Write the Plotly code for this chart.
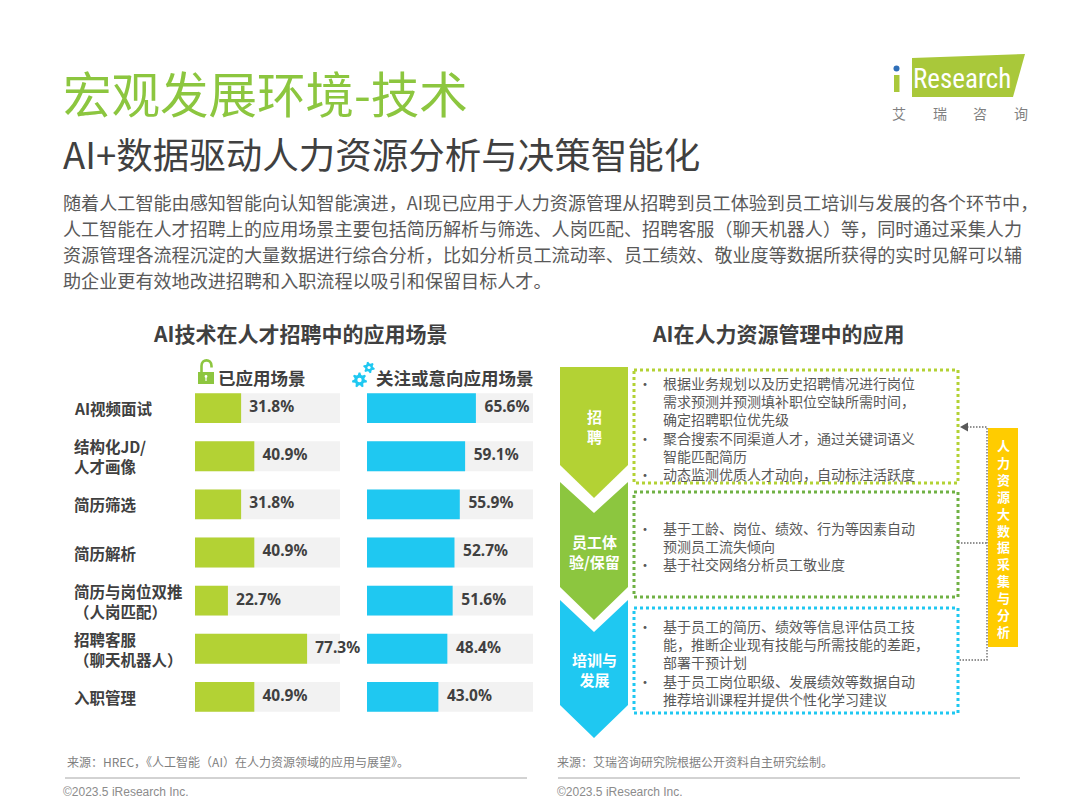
import plotly.graph_objects as go
import numpy as np

W, H = 1080, 810
CJK = "Noto Sans CJK SC"
DARK = "#404040"
GRAY = "#595959"
LIME = "#b3d234"
GREEN = "#8cc63f"
CYAN = "#1fc8f1"

# ---- data ----
scenes = ["AI视频面试", "结构化JD/<br>人才画像", "简历筛选", "简历解析",
          "简历与岗位双推<br>（人岗匹配）", "招聘客服<br>（聊天机器人）", "入职管理"]
applied = [31.8, 40.9, 31.8, 40.9, 22.7, 77.3, 40.9]
interested = [65.6, 59.1, 55.9, 52.7, 51.6, 48.4, 43.0]

para_lines = [
    "随着人工智能由感知智能向认知智能演进，AI现已应用于人力资源管理从招聘到员工体验到员工培训与发展的各个环节中，",
    "人工智能在人才招聘上的应用场景主要包括简历解析与筛选、人岗匹配、招聘客服（聊天机器人）等，同时通过采集人力",
    "资源管理各流程沉淀的大量数据进行综合分析，比如分析员工流动率、员工绩效、敬业度等数据所获得的实时见解可以辅",
    "助企业更有效地改进招聘和入职流程以吸引和保留目标人才。",
]

stages = ["招<br>聘", "员工体<br>验/保留", "培训与<br>发展"]
recruit_pts = [["根据业务规划以及历史招聘情况进行岗位", "需求预测并预测填补职位空缺所需时间，", "确定招聘职位优先级"],
               ["聚合搜索不同渠道人才，通过关键词语义", "智能匹配简历"],
               ["动态监测优质人才动向，自动标注活跃度"]]
retain_pts = [["基于工龄、岗位、绩效、行为等因素自动", "预测员工流失倾向"],
              ["基于社交网络分析员工敬业度"]]
train_pts = [["基于员工的简历、绩效等信息评估员工技", "能，推断企业现有技能与所需技能的差距，", "部署干预计划"],
             ["基于员工岗位职级、发展绩效等数据自动", "推荐培训课程并提供个性化学习建议"]]
side_label = "人力资源大数据采集与分析"


def px(x):
    return x / W


def py(y):
    return 1 - y / H


annos = []
shapes = []


def txt(x, y, s, size, color=GRAY, bold=False, anchor="left", family=CJK, **kw):
    if bold:
        s = "<b>" + s + "</b>"
    annos.append(dict(x=x, y=y, xref="x", yref="y", text=s, showarrow=False,
                      xanchor=anchor, yanchor="middle",
                      font=dict(family=family, size=size, color=color), **kw))


def path(d, fill=None, line_color=None, lw=0, dash=None):
    shapes.append(dict(type="path", path=d, xref="x", yref="y",
                       fillcolor=fill if fill else "rgba(0,0,0,0)",
                       line=dict(color=line_color if line_color else "rgba(0,0,0,0)", width=lw, dash=dash)))


def rect(x0, y0, x1, y1, fill=None, line_color=None, lw=0, dash=None):
    shapes.append(dict(type="rect", x0=x0, y0=y0, x1=x1, y1=y1, xref="x", yref="y",
                       fillcolor=fill if fill else "rgba(0,0,0,0)",
                       line=dict(color=line_color if line_color else "rgba(0,0,0,0)", width=lw, dash=dash)))


def dot(x0, y0, x1, y1, col):
    shapes.append(dict(type="circle", x0=x0, y0=y0, x1=x1, y1=y1, xref="x", yref="y",
                       fillcolor=col, line=dict(width=0)))


def gear(cx, cy, ro, ri, n):
    pts = []
    for i in range(n * 4):
        a = 2 * np.pi * (i + 0.5) / (n * 4)
        r = ro if i % 4 in (0, 1) else ri
        pts.append((cx + r * np.cos(a), cy + r * np.sin(a)))
    return "M" + " L".join(f"{x:.2f},{y:.2f}" for x, y in pts) + " Z"


fig = go.Figure()

# base pixel canvas
fig.add_trace(go.Scatter(x=[0], y=[0], mode="markers", marker=dict(opacity=0),
                         hoverinfo="skip", showlegend=False))

# ---- header ----
txt(61, 92, "宏观发展环境-技术", 48.5, color="#8cc63f")
txt(61, 153, "AI+数据驱动人力资源分析与决策智能化", 36.5, color=DARK)
for i, line in enumerate(para_lines):
    txt(61, 202 + i * 26, line, 18.1, color=GRAY)

# logo
path("M912,58 L1025,54 L1013,97 L912,97 Z", fill="#a9c83a")
rect(894, 75, 899.5, 92, fill="#a9c83a")
dot(893.5, 65.5, 899.5, 71.5, "#2f6fb8")
txt(962, 79, "Research", 27, color="white", anchor="center",
    family="Liberation Sans Narrow, Roboto Condensed, Roboto")
for i, ch in enumerate("艾瑞咨询"):
    txt(899 + i * 40.5, 113, ch, 14, color="#7f7f7f", anchor="center")

# ---- left chart ----
txt(300, 333, "AI技术在人才招聘中的应用场景", 21, color=DARK, bold=True, anchor="center")
txt(216, 377, "已应用场景", 17.5, color=DARK, bold=True)
txt(374, 377, "关注或意向应用场景", 17.5, color=DARK, bold=True)

# lock icon
rect(198, 372, 214, 384, fill="#8dc63f")
path("M201.5,372 L201.5,366 C201.5,358.5 211.5,358.5 211.5,366 L211.5,367.5",
     line_color="#8dc63f", lw=2.6)
dot(204.6, 375, 207.4, 377.8, "white")
rect(205.4, 377, 206.6, 381, fill="white")
# gear icon
path(gear(359.5, 380, 7.6, 5.2, 7), fill=CYAN)
path(gear(369, 367.5, 5.8, 4.0, 6), fill=CYAN)
dot(357.3, 377.8, 361.7, 382.2, "white")
dot(367.4, 365.9, 370.6, 369.1, "white")

ydom = [py(721), py(384)]
full = [100] * len(scenes)
for ax, vals, col, pad in (("2", applied, LIME, 5.6), ("3", interested, CYAN, 5.2)):
    fig.add_trace(go.Bar(x=full, y=scenes, orientation="h", width=0.62,
                         marker=dict(color="#f2f2f2", line=dict(width=0)),
                         xaxis="x" + ax, yaxis="y" + ax, hoverinfo="skip", showlegend=False))
    fig.add_trace(go.Bar(x=vals, y=scenes, orientation="h", width=0.62,
                         marker=dict(color=col, line=dict(width=0)),
                         xaxis="x" + ax, yaxis="y" + ax, showlegend=False))
    fig.add_trace(go.Scatter(x=[v + pad for v in vals], y=scenes, mode="text",
                             text=[f"<b>{v:.1f}%</b>" for v in vals], textposition="middle right",
                             textfont=dict(family="Noto Sans, " + CJK, size=15.5, color=DARK),
                             xaxis="x" + ax, yaxis="y" + ax, cliponaxis=False,
                             hoverinfo="skip", showlegend=False))

for s in scenes:
    annos.append(dict(x=px(73), y=s, xref="paper", yref="y2", text="<b>" + s + "</b>",
                      showarrow=False, xanchor="left", yanchor="middle", align="left", borderpad=0,
                      font=dict(family=CJK, size=15.5, color=DARK)))

# ---- right diagram ----
txt(778, 333, "AI在人力资源管理中的应用", 21, color=DARK, bold=True, anchor="center")

path("M560,367 L628,367 L628,465 L594,498 L560,465 Z", fill=LIME)
path("M560,482 L594,513 L628,482 L628,587 L594,620 L560,587 Z", fill=GREEN)
path("M560,600 L594,632 L628,600 L628,705 L594,738 L560,705 Z", fill=CYAN)
for s, y in zip(stages, [426, 551, 669]):
    annos.append(dict(x=594, y=y, xref="x", yref="y", text="<b>" + s + "</b>", showarrow=False,
                      xanchor="center", yanchor="middle", align="center",
                      font=dict(family=CJK, size=15, color="white")))

boxes = [(370, 483, LIME, recruit_pts, 428),
         (492, 597, "#70b144", retain_pts, 545.5),
         (608, 713, CYAN, train_pts, 662)]
for top, bot, col, pts, yc in boxes:
    rect(634, top, 958, bot, line_color=col, lw=3, dash="3px,3px")
    lines, marks = [], []
    for item in pts:
        for j, line in enumerate(item):
            lines.append(line)
            marks.append("•" if j == 0 else " ")
    for x, s, anc in ((645, "<br>".join(marks), "center"), (662, "<br>".join(lines), "left")):
        annos.append(dict(x=x, y=yc, xref="x", yref="y", text=s, showarrow=False,
                          xanchor=anc, yanchor="middle", align="left", borderpad=0,
                          font=dict(family=CJK, size=14, color=GRAY)))

# side bar and connectors
rect(988, 428, 1018, 647, fill="#ffcc00")
annos.append(dict(x=1003, y=538, xref="x", yref="y", text="<b>" + "<br>".join(side_label) + "</b>",
                  showarrow=False, xanchor="center", yanchor="middle", align="center",
                  font=dict(family=CJK, size=13, color="white")))
conn = dict(line_color="#6d6d6d", lw=1.4, dash="1.5px,1.5px")
path("M967,427 L987,427 L987,660 L958,660", **conn)
path("M958,543 L987,543", **conn)
path("M960,427 L968,422.5 L968,431.5 Z", fill="#595959")

# ---- footers ----
txt(65, 761, "来源：HREC，《人工智能（AI）在人力资源领域的应用与展望》。", 12, color="#7f7f7f")
txt(555, 761, "来源：艾瑞咨询研究院根据公开资料自主研究绘制。", 12, color="#7f7f7f")
path("M65,778 L527,778", line_color="#a6a6a6", lw=1)
path("M558,778 L1020,778", line_color="#a6a6a6", lw=1)
txt(61, 792, "©2023.5 iResearch Inc.", 12, color="#8c8c8c", family="Liberation Sans, Arial")
txt(555, 792, "©2023.5 iResearch Inc.", 12, color="#8c8c8c", family="Liberation Sans, Arial")

hidden = dict(visible=False, fixedrange=True)
fig.update_layout(
    width=W, height=H, margin=dict(l=0, r=0, t=0, b=0),
    paper_bgcolor="white", plot_bgcolor="rgba(0,0,0,0)",
    showlegend=False, barmode="overlay",
    xaxis=dict(range=[0, W], domain=[0, 1], **hidden),
    yaxis=dict(range=[H, 0], domain=[0, 1], **hidden),
    xaxis2=dict(range=[0, 100], domain=[px(195), px(340)], anchor="y2", **hidden),
    yaxis2=dict(type="category", categoryarray=scenes, range=[6.5, -0.5], domain=ydom, anchor="x2", **hidden),
    xaxis3=dict(range=[0, 100], domain=[px(367), px(533)], anchor="y3", **hidden),
    yaxis3=dict(type="category", categoryarray=scenes, range=[6.5, -0.5], domain=ydom, anchor="x3", **hidden),
    shapes=shapes, annotations=annos,
    font=dict(family=CJK),
)
fig.write_html("out.html", config={"displayModeBar": False},
               post_script="document.body.style.margin='0';")
